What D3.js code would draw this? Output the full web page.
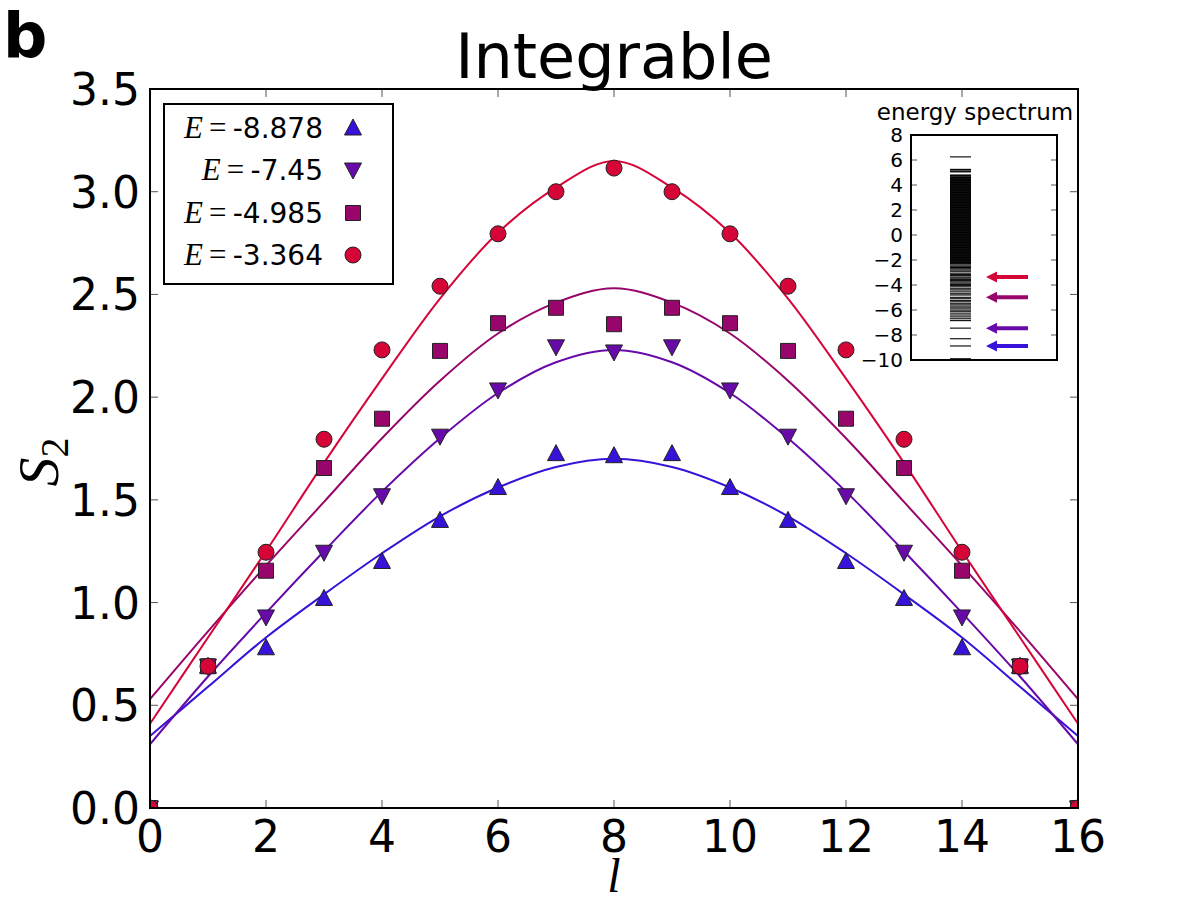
<!DOCTYPE html>
<html>
<head>
<meta charset="utf-8">
<script src="https://cdn.jsdelivr.net/npm/d3@7"></script>
<style>
  body { margin: 0; background: #fff; }
</style>
</head>
<body>
<svg id="chart" width="1200" height="900" font-family="DejaVu Sans, sans-serif"></svg>
<script>
// subsystem size l
var ls = [0, 1, 2, 3, 4, 5, 6, 7, 8, 9, 10, 11, 12, 13, 14, 15, 16];

var energies = ['-8.878', '-7.45', '-4.985', '-3.364'];
var energyVals = [-8.878, -7.45, -4.985, -3.364];
var colors = ['#3812d8', '#670aa9', '#98066b', '#d60538'];
var shapes = ['up', 'down', 'square', 'circle'];

// measured S2 (markers)
var s2_a = [0, 0.69, 0.78, 1.02, 1.20, 1.40, 1.56, 1.725, 1.715, 1.725, 1.56, 1.40, 1.20, 1.02, 0.78, 0.69, 0];
var s2_b = [0, 0.69, 0.93, 1.245, 1.52, 1.81, 2.035, 2.245, 2.22, 2.245, 2.035, 1.81, 1.52, 1.245, 0.93, 0.69, 0];
var s2_c = [0, 0.69, 1.155, 1.655, 1.895, 2.225, 2.36, 2.435, 2.355, 2.435, 2.36, 2.225, 1.895, 1.655, 1.155, 0.69, 0];
var s2_d = [0, 0.69, 1.245, 1.795, 2.23, 2.54, 2.795, 3.0, 3.115, 3.0, 2.795, 2.54, 2.23, 1.795, 1.245, 0.69, 0];

// fitted curves, read at integer l
var fit_a = [0.35, 0.59, 0.83, 1.04, 1.24, 1.42, 1.56, 1.66, 1.70, 1.66, 1.56, 1.42, 1.24, 1.04, 0.83, 0.59, 0.35];
var fit_b = [0.31, 0.64, 0.95, 1.25, 1.54, 1.80, 2.02, 2.17, 2.23, 2.17, 2.02, 1.80, 1.54, 1.25, 0.95, 0.64, 0.31];
var fit_c = [0.53, 0.86, 1.18, 1.49, 1.80, 2.08, 2.31, 2.46, 2.53, 2.46, 2.31, 2.08, 1.80, 1.49, 1.18, 0.86, 0.53];
var fit_d = [0.41, 0.83, 1.25, 1.68, 2.09, 2.48, 2.80, 3.02, 3.15, 3.02, 2.80, 2.48, 2.09, 1.68, 1.25, 0.83, 0.41];

var xTicks = [0, 2, 4, 6, 8, 10, 12, 14, 16];
var yTicks = [0, 0.5, 1.0, 1.5, 2.0, 2.5, 3.0, 3.5];

// energy spectrum levels for the inset
var levels = [6.25, 5.25, 5.2, 5.1, 5.05, 4.8, 4.75, 4.7, 4.6, 4.55, 4.5, 4.45, 4.4, 4.35, 4.3, 4.25, 4.2,
  4.15, 4.1, 4.05, 4.0, 3.95, 3.9, 3.85, 3.8, 3.75, 3.7, 3.65, 3.6, 3.55, 3.5, 3.45, 3.4,
  3.35, 3.3, 3.25, 3.2, 3.15, 3.1, 3.05, 3.0, 2.95, 2.9, 2.85, 2.8, 2.75, 2.7, 2.65, 2.6,
  2.55, 2.5, 2.45, 2.4, 2.35, 2.3, 2.25, 2.2, 2.15, 2.1, 2.05, 2.0, 1.95, 1.9, 1.85, 1.8,
  1.75, 1.7, 1.65, 1.6, 1.55, 1.5, 1.45, 1.4, 1.35, 1.3, 1.25, 1.2, 1.15, 1.1, 1.05, 1.0,
  0.95, 0.9, 0.85, 0.8, 0.75, 0.7, 0.65, 0.6, 0.55, 0.5, 0.45, 0.4, 0.35, 0.3, 0.25, 0.2,
  0.15, 0.1, 0.05, 0.0, -0.05, -0.1, -0.15, -0.2, -0.25, -0.3, -0.35, -0.4, -0.45, -0.5,
  -0.55, -0.6, -0.65, -0.7, -0.75, -0.8, -0.85, -0.9, -0.95, -1.0, -1.05, -1.1, -1.15,
  -1.2, -1.25, -1.3, -1.35, -1.4, -1.45, -1.5, -1.55, -1.6, -1.65, -1.7, -1.75, -1.8,
  -1.85, -1.9, -1.95, -2.0, -2.05, -2.1, -2.15, -2.2, -2.25, -2.3, -2.4, -2.5, -2.6,
  -2.7, -2.8, -2.9, -3.05, -3.15, -3.25, -3.364, -3.45, -3.55, -3.65, -3.75, -3.85,
  -3.95, -4.05, -4.15, -4.3, -4.4, -4.55, -4.7, -4.8, -4.985, -5.1, -5.25, -5.35, -5.5,
  -5.6, -5.75, -5.85, -6.0, -6.1, -6.25, -6.4, -6.55, -6.7, -6.85, -7.45, -8.3, -8.878, -9.9];
var insetTicks = [-10, -8, -6, -4, -2, 0, 2, 4, 6, 8];

var svgEl = d3.select('#chart');

var x = d3.scaleLinear().domain([0, 16]).range([150, 1078]);
var y = d3.scaleLinear().domain([0, 3.5]).range([808, 89]);

svgEl.append('defs').append('clipPath').attr('id', 'clip')
  .append('rect')
  .attr('x', 150).attr('y', 89)
  .attr('width', 928).attr('height', 719);

// ticks (inward, all four sides)
var tk = svgEl.append('g').attr('stroke', '#555').attr('stroke-width', 1);
xTicks.forEach(function(t) {
  tk.append('line').attr('x1', x(t)).attr('x2', x(t)).attr('y1', 808).attr('y2', 800);
  tk.append('line').attr('x1', x(t)).attr('x2', x(t)).attr('y1', 89).attr('y2', 97);
});
yTicks.forEach(function(t) {
  tk.append('line').attr('x1', 150).attr('x2', 158).attr('y1', y(t)).attr('y2', y(t));
  tk.append('line').attr('x1', 1078).attr('x2', 1070).attr('y1', y(t)).attr('y2', y(t));
});

// tick labels
svgEl.append('g').selectAll('text')
  .data(xTicks).enter().append('text')
  .attr('x', (d) => x(d))
  .attr('y', 852)
  .attr('text-anchor', 'middle')
  .attr('font-size', 44)
  .text((d) => d);

svgEl.append('g').selectAll('text')
  .data(yTicks).enter().append('text')
  .attr('x', 140)
  .attr('y', (d) => y(d) + 16)
  .attr('text-anchor', 'end')
  .attr('font-size', 44)
  .text((d) => d.toFixed(1));

// fitted curves
var fits = [fit_a, fit_b, fit_c, fit_d];
var line = d3.line()
  .x((d, i) => x(ls[i]))
  .y((d) => y(d))
  .curve(d3.curveCatmullRom);

var plot = svgEl.append('g').attr('clip-path', 'url(#clip)');

fits.forEach(function(f, k) {
  plot.append('path')
    .attr('d', line(f))
    .attr('fill', 'none')
    .attr('stroke', colors[k])
    .attr('stroke-width', 2);
});

function markerPath(shape) {
  if (shape == 'up') return 'M0,-9L8.5,7L-8.5,7Z';
  if (shape == 'down') return 'M0,9L8.5,-7L-8.5,-7Z';
  if (shape == 'square') return 'M-7.5,-7.5H7.5V7.5H-7.5Z';
  return d3.symbol().type(d3.symbolCircle).size(Math.PI * 8 * 8)();
}

var series = [s2_a, s2_b, s2_c, s2_d];
series.forEach(function(s, k) {
  plot.append('g').selectAll('path')
    .data(s).enter().append('path')
    .attr('d', markerPath(shapes[k]))
    .attr('transform', (d, i) => 'translate(' + x(ls[i]) + ',' + y(d) + ')')
    .attr('fill', colors[k])
    .attr('stroke', '#222')
    .attr('stroke-width', 1);
});

// frame
svgEl.append('rect')
  .attr('x', 150).attr('y', 89)
  .attr('width', 928).attr('height', 719)
  .attr('fill', 'none')
  .attr('stroke', '#000')
  .attr('stroke-width', 2);

// legend
var lg = svgEl.append('g');
lg.append('rect')
  .attr('x', 164).attr('y', 104)
  .attr('width', 229).attr('height', 180)
  .attr('fill', '#fff')
  .attr('stroke', '#000')
  .attr('stroke-width', 2);

var legY = [128, 170, 213, 255];
energies.forEach(function(e, k) {
  var t = lg.append('text')
    .attr('x', 323)
    .attr('y', legY[k] + 10)
    .attr('text-anchor', 'end')
    .attr('font-size', 28);
  t.append('tspan')
    .attr('font-family', 'Liberation Serif, serif')
    .attr('font-style', 'italic')
    .attr('font-size', 31)
    .text('E');
  t.append('tspan')
    .attr('font-family', 'Liberation Serif, serif')
    .attr('font-size', 31)
    .text('\u2009=\u2009');
  t.append('tspan').text(e);
  lg.append('path')
    .attr('d', markerPath(shapes[k]))
    .attr('transform', 'translate(353,' + legY[k] + ')')
    .attr('fill', colors[k])
    .attr('stroke', '#222')
    .attr('stroke-width', 1);
});

// title, panel letter, axis labels
svgEl.append('text')
  .attr('x', 614).attr('y', 78)
  .attr('text-anchor', 'middle')
  .attr('font-size', 62)
  .text('Integrable');

svgEl.append('text')
  .attr('x', 3).attr('y', 57)
  .attr('font-size', 62)
  .attr('font-weight', 'bold')
  .text('b');

svgEl.append('text')
  .attr('x', 614).attr('y', 892)
  .attr('text-anchor', 'middle')
  .attr('font-family', 'Liberation Serif, serif')
  .attr('font-style', 'italic')
  .attr('font-size', 48)
  .text('l');

var yl = svgEl.append('text')
  .attr('transform', 'translate(58,462) rotate(-90)')
  .attr('text-anchor', 'middle')
  .attr('font-family', 'Liberation Serif, serif')
  .attr('font-style', 'italic')
  .attr('font-size', 58);
yl.append('tspan').text('S');
yl.append('tspan').attr('font-style', 'normal').attr('font-size', 40).attr('dy', 10).text('2');

// inset: energy spectrum
var iy = d3.scaleLinear().domain([-10, 8]).range([360, 135]);
var ins = svgEl.append('g');

ins.append('rect')
  .attr('x', 911).attr('y', 135)
  .attr('width', 146).attr('height', 225)
  .attr('fill', '#fff');

ins.append('g').selectAll('line')
  .data(levels).enter().append('line')
  .attr('x1', 950).attr('x2', 971)
  .attr('y1', (d) => iy(d)).attr('y2', (d) => iy(d))
  .attr('stroke', '#000')
  .attr('stroke-width', 1.1);

energyVals.forEach(function(e, k) {
  var yy = iy(e);
  ins.append('path')
    .attr('d', 'M1028,' + (yy - 2) + 'H997V' + (yy - 5.5) + 'L986,' + yy + 'L997,' + (yy + 5.5) + 'V' + (yy + 2) + 'H1028Z')
    .attr('fill', colors[k]);
});

var itk = ins.append('g').attr('stroke', '#555').attr('stroke-width', 1);
insetTicks.forEach(function(t) {
  itk.append('line').attr('x1', 911).attr('x2', 917).attr('y1', iy(t)).attr('y2', iy(t));
  itk.append('line').attr('x1', 1057).attr('x2', 1051).attr('y1', iy(t)).attr('y2', iy(t));
});

ins.append('g').selectAll('text')
  .data(insetTicks).enter().append('text')
  .attr('x', 903)
  .attr('y', (d) => iy(d) + 7)
  .attr('text-anchor', 'end')
  .attr('font-size', 20)
  .text((d) => d < 0 ? '\u2212' + Math.abs(d) : d);

ins.append('rect')
  .attr('x', 911).attr('y', 135)
  .attr('width', 146).attr('height', 225)
  .attr('fill', 'none')
  .attr('stroke', '#000')
  .attr('stroke-width', 2);

ins.append('text')
  .attr('x', 975).attr('y', 120)
  .attr('text-anchor', 'middle')
  .attr('font-size', 23)
  .text('energy spectrum');
</script>
</body>
</html>
